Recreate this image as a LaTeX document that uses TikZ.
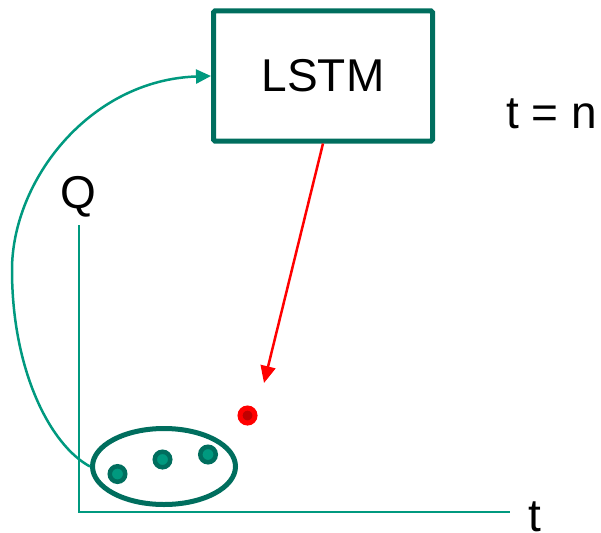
\documentclass[tikz,border=0pt]{standalone}
\usepackage{fontspec}
\setmainfont{Liberation Sans}
\usetikzlibrary{shapes.geometric,arrows.meta}
\definecolor{tealdark}{HTML}{006E5E}
\definecolor{teallight}{HTML}{00997F}
\definecolor{reddark}{HTML}{C00000}
\tikzset{
  big/.style={font=\fontsize{46}{50}\selectfont, inner sep=0pt},
  lstmbox/.style={draw=tealdark, line width=5pt, rounded corners=1.5pt, minimum width=219pt, minimum height=130pt, inner sep=0pt, big},
  axisline/.style={draw=teallight, line width=2pt},
  groupell/.style={ellipse, draw=tealdark, line width=5pt, minimum width=143pt, minimum height=76pt, inner sep=0pt},
  datadot/.style={circle, draw=tealdark, fill=teallight, line width=4.5pt, minimum size=15.5pt, inner sep=0pt},
  preddot/.style={circle, draw=red, fill=reddark, line width=5pt, minimum size=15pt, inner sep=0pt},
  feedback/.style={draw=teallight, line width=2.5pt, -{Triangle[length=15pt,width=14pt]}},
  predarrow/.style={draw=red, line width=2.5pt, -{Triangle[length=17pt,width=15pt]}}
}
\begin{document}
\begin{tikzpicture}[x=1pt,y=-1pt]
\useasboundingbox (0,0) rectangle (601,532);
\node[lstmbox] (lstm) at (323,76) {LSTM};
\node[big, anchor=base west] (tn) at (506,128) {t = n};
\node[big, anchor=base west] (q) at (60,208) {Q};
\node[big, anchor=base west] (tx) at (528,531) {t};
\coordinate (ytop) at (79,225);
\coordinate (orig) at (79,512);
\coordinate (xend) at (510,512);
\draw[axisline] (ytop) -- (orig) -- (xend);
\node[groupell] (grp) at (164,466.5) {};
\node[datadot] (d1) at (117.5,474) {};
\node[datadot] (d2) at (162.5,459.5) {};
\node[datadot] (d3) at (208,454.5) {};
\node[preddot] (p) at (247.5,415.5) {};
\coordinate (ptip) at (264,383);
\draw[predarrow] (lstm.south) -- (ptip);
\draw[feedback] (grp.west) .. controls (50,445) and (12,370) .. (12,270) .. controls (12,180) and (90,80) .. (lstm.west);
\end{tikzpicture}
\end{document}
